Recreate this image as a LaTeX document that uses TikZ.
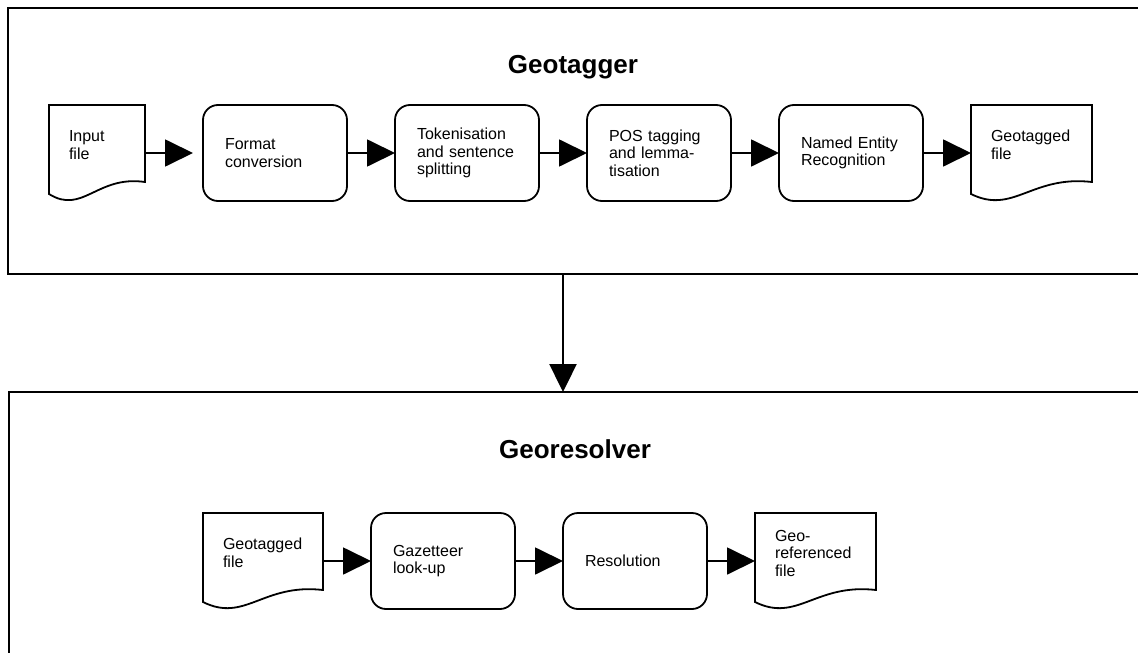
\documentclass[tikz,border=0pt]{standalone}
\usepackage{fontspec}
\setmainfont{Liberation Sans}
\usetikzlibrary{arrows.meta, positioning, calc}

\tikzset{
  frame/.style={draw, line width=2pt, anchor=north west, inner sep=0pt, outer sep=0pt},
  title/.style={font=\bfseries\fontsize{26}{30}\selectfont, anchor=base},
  procbox/.style={draw, line width=1.8pt, rounded corners=15pt,
    minimum width=144pt, minimum height=96pt, text width=100pt,
    inner xsep=22pt, outer sep=0pt, align=left, font=\fontsize{16}{17.5}\selectfont,
    anchor=north west},
  docbox/.style={text width=#1, inner xsep=20pt, inner ysep=0pt, outer sep=0pt,
    minimum height=80pt, align=left, font=\fontsize{16}{17.5}\selectfont,
    anchor=north west},
  docline/.style={line width=1.8pt, line join=miter},
  flow/.style={->, line width=1.8pt},
  bigflow/.style={->, line width=2.4pt}
}

\begin{document}
\begin{tikzpicture}[node distance=48pt, >={Triangle[length=28pt, width=27pt]}]
  \useasboundingbox (0,0) rectangle (1138pt,-653pt);
  \clip (0,0) rectangle (1138pt,-653pt);

  % the two stages
  \node[frame, minimum width=1150pt, minimum height=266pt] (tagger) at (8pt,-8pt) {};
  \node[frame, minimum width=1150pt, minimum height=300pt] (resolver) at (9pt,-392pt) {};
  \node[title] (tagtitle) at (573pt,-73pt) {Geotagger};
  \node[title] (restitle) at (575pt,-458pt) {Georesolver};

  % geotagger pipeline
  \node[docbox=56pt] (input) at (49pt,-105pt) {Input\\file};
  \node[procbox, right=58pt of input.north east, anchor=north west] (format) {Format\\conversion};
  \node[procbox, right=of format.north east, anchor=north west] (token) {Tokenisation\\and sentence\\splitting};
  \node[procbox, right=of token.north east, anchor=north west] (postag) {POS tagging\\and lemma-\\tisation};
  \node[procbox, right=of postag.north east, anchor=north west] (ner) {Named Entity\\Recognition};
  \node[docbox=81pt, right=of ner.north east, anchor=north west] (tagged) {Geotagged\\file};
  \draw[flow, shorten >=10pt] (format -| input.east) -- (format);
  \foreach \s/\t in {format/token, token/postag, postag/ner}
    \draw[flow] (\s) -- (\t);
  \draw[flow] (ner) -- (ner -| tagged.west);

  % georesolver pipeline
  \node[docbox=80pt] (intagged) at (203pt,-513pt) {Geotagged\\file};
  \node[procbox, right=of intagged.north east, anchor=north west] (gazet) {Gazetteer\\look-up};
  \node[procbox, right=of gazet.north east, anchor=north west] (resol) {Resolution};
  \node[docbox=81pt, right=of resol.north east, anchor=north west] (georef) {Geo-\\referenced\\file};
  \draw[flow] (gazet -| intagged.east) -- (gazet);
  \draw[flow] (gazet) -- (resol);
  \draw[flow] (resol) -- (resol -| georef.west);

  % document outlines with wavy bottom
  \foreach \d in {input, tagged, intagged, georef}
    \draw[docline] let \p1=($(\d.north east)-(\d.north west)$) in
      (\d.north west) -- (\d.north east) -- ($(\d.north west)+(\x1,-77pt)$)
      .. controls ($(\d.north west)+({0.5*\x1},-70pt)$) and ($(\d.north west)+({0.35*\x1},-110pt)$)
      .. ($(\d.north west)+(0,-89pt)$) -- cycle;

  % hand-over between the stages
  \coordinate (drop) at (563pt,0 |- tagger.south);
  \draw[bigflow] (drop) -- (drop |- resolver.north);
\end{tikzpicture}
\end{document}
